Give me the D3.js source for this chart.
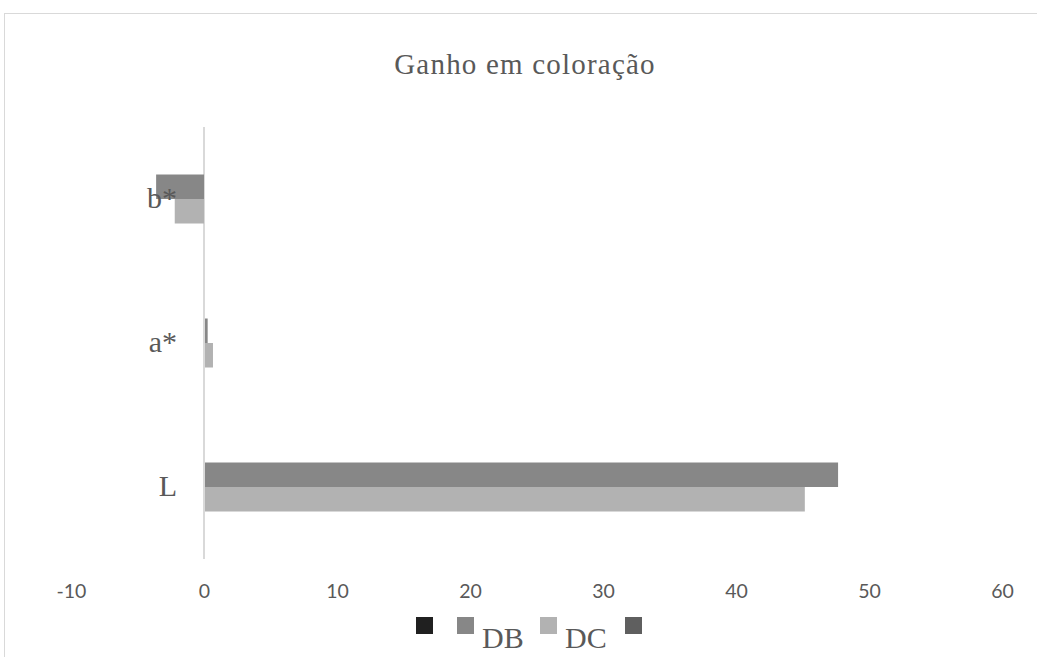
<!DOCTYPE html>
<html>
<head>
<meta charset="utf-8">
<script src="https://cdn.jsdelivr.net/npm/d3@7"></script>
<style>
  html, body { margin: 0; padding: 0; background: #fff; }
  svg { display: block; }
</style>
</head>
<body>
<script>
// ---- data ----
const categories = ["b*", "a*", "L"];
const seriesNames = ["", "DB", "DC", ""];        // legend order
const seriesColors = ["#202020", "#878787", "#b2b2b2", "#5f5f5f"];
const serie1Values = [null, null, null];
const dbValues = [-3.6, 0.2, 47.6];
const dcValues = [-2.2, 0.6, 45.1];
const serie4Values = [null, null, null];
const xTicks = [-10, 0, 10, 20, 30, 40, 50, 60];
const title = "Ganho em coloração";

const seriesValues = [serie1Values, dbValues, dcValues, serie4Values];
const slotOrder = [3, 1, 2, 0]; // top-to-bottom slot order of series within a category

const W = 1037, H = 657;
const svg = d3.select("body").append("svg").attr("width", W).attr("height", H);

// outer chart border (cut by the window)
svg.append("rect")
  .attr("x", 4.5).attr("y", 13.5).attr("width", 1200).attr("height", 1000)
  .attr("fill", "none").attr("stroke", "#d9d9d9").attr("stroke-width", 1);

// title
svg.append("text")
  .attr("x", 525).attr("y", 74)
  .attr("text-anchor", "middle")
  .attr("font-family", "'Liberation Serif', serif")
  .attr("font-size", 29)
  .attr("letter-spacing", 1.2)
  .attr("fill", "#595959")
  .text(title);

// scales
const x = d3.scaleLinear().domain([-10, 60]).range([71, 1002]);
const y = d3.scaleBand().domain(categories).range([127, 559]).padding(0);
const barH = 24.5;
const slot = d3.scaleBand().domain(slotOrder)
  .range([(y.bandwidth() - 4 * barH) / 2, (y.bandwidth() + 4 * barH) / 2]).padding(0);

// zero line
svg.append("line")
  .attr("x1", x(0)).attr("x2", x(0))
  .attr("y1", y.range()[0]).attr("y2", y.range()[1])
  .attr("stroke", "#d9d9d9").attr("stroke-width", 2);

// bars
const barData = [];
seriesValues.forEach((vals, si) => {
  vals.forEach((v, ci) => {
    if (v !== null && v !== undefined) barData.push({ cat: categories[ci], s: si, v });
  });
});
svg.append("g").selectAll("rect").data(barData).join("rect")
  .attr("x", d => Math.min(x(0) + 1, x(d.v)))
  .attr("width", d => Math.abs(x(d.v) - x(0)))
  .attr("y", d => y(d.cat) + slot(d.s))
  .attr("height", slot.bandwidth())
  .attr("fill", d => seriesColors[d.s]);

// category labels
svg.append("g").selectAll("text").data(categories).join("text")
  .attr("x", 177)
  .attr("y", d => y(d) + y.bandwidth() / 2 + 9)
  .attr("text-anchor", "end")
  .attr("font-family", "'Liberation Serif', serif")
  .attr("font-size", 30)
  .attr("fill", "#595959")
  .text(d => d);

// x axis (labels only)
const xAxis = d3.axisBottom(x).tickValues(xTicks).tickSize(0).tickPadding(0).tickFormat(d => String(d));
const gx = svg.append("g").attr("transform", "translate(0,580)").call(xAxis);
gx.select(".domain").remove();
gx.selectAll("text")
  .attr("font-family", "Lato, sans-serif")
  .attr("font-size", 19.5)
  .attr("fill", "#595959")
  .attr("dy", "0.9em");

// legend
const legendItems = seriesNames.map((n, i) => ({ name: n, color: seriesColors[i] }));
const legendX = [416, 457, 540, 625];
const lg = svg.append("g");
legendItems.forEach((d, i) => {
  lg.append("rect")
    .attr("x", legendX[i]).attr("y", 617)
    .attr("width", 17).attr("height", 17)
    .attr("fill", d.color);
  if (d.name) {
    lg.append("text")
      .attr("x", legendX[i] + 25).attr("y", 648)
      .attr("font-family", "'Liberation Serif', serif")
      .attr("font-size", 30)
      .attr("fill", "#595959")
      .text(d.name);
  }
});
</script>
</body>
</html>
